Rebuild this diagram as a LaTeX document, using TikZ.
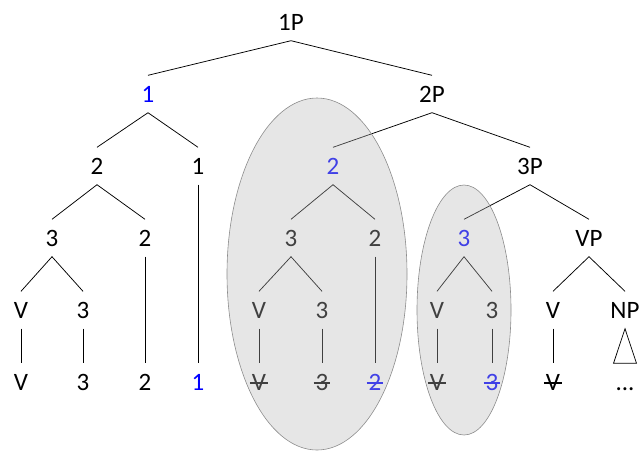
\documentclass[tikz,border=0pt]{standalone}
\usepackage{fontspec}
\setmainfont{Carlito}
\usetikzlibrary{calc}

\definecolor{moved}{RGB}{0,0,255}
% crossed-out copy of a label
\newcommand{\struck}[1]{\setbox0\hbox{#1}\rlap{\kern-0.08em\raise0.25em\hbox{\vrule width\dimexpr\wd0+0.16em\relax height 0.055em}}\box0}

\begin{document}
\begin{tikzpicture}[x=1pt,y=-1pt,
        lbl/.style={font=\fontsize{25}{30}\selectfont, inner xsep=0pt, inner ysep=10.5pt,
            text height=16pt, text depth=0pt},
        copy/.style={lbl, text=moved},
        branch/.style={line width=0.75pt},
        chunk/.style={draw=black!45, line width=0.6pt, fill=black!28, fill opacity=0.35}]
        \useasboundingbox (0,0) rectangle (644,451);

        % row 1 and 2
        \node[lbl] (p1) at (291,22) {1P};
        \node[copy] (one) at (148,94) {1};
        \node[lbl] (p2) at (432,94) {2P};

        % row 3
        \node[lbl] (a2) at (97,166) {2};
        \node[lbl] (a1) at (198,166) {1};
        \node[copy] (b2) at (333,166) {2};
        \node[lbl] (p3) at (530,166) {3P};

        % row 4
        \node[lbl] (a3) at (52,238) {3};
        \node[lbl] (a2r) at (145,238) {2};
        \node[lbl] (b3) at (291,238) {3};
        \node[lbl] (b2r) at (375,238) {2};
        \node[copy] (c3) at (464,238) {3};
        \node[lbl] (vp) at (589,238) {VP};

        % row 5
        \node[lbl] (av) at (21,310) {V};
        \node[lbl] (a3r) at (83,310) {3};
        \node[lbl] (bv) at (259,310) {V};
        \node[lbl] (b3r) at (322,310) {3};
        \node[lbl] (cv) at (437,310) {V};
        \node[lbl] (c3r) at (492,310) {3};
        \node[lbl] (dv) at (553,310) {V};
        \node[lbl] (np) at (625,310) {NP};

        % row 6
        \node[lbl] (avt) at (21,382) {V};
        \node[lbl] (a3t) at (83,382) {3};
        \node[lbl] (a2t) at (145,382) {2};
        \node[copy] (a1t) at (198,382) {1};
        \node[lbl] (bvt) at (259,382) {\struck{V}};
        \node[lbl] (b3t) at (322,382) {\struck{3}};
        \node[copy] (b2t) at (375,382) {\struck{2}};
        \node[lbl] (cvt) at (437,382) {\struck{V}};
        \node[copy] (c3t) at (492,382) {\struck{3}};
        \node[lbl] (dvt) at (553,382) {\struck{V}};
        \node[lbl] (dots) at (625,382) {...};

        \draw[branch] (one.north) -- (p1.south) -- (p2.north);
        \draw[branch] (a2.north) -- (one.south) -- (a1.north);
        \draw[branch] (b2.north) -- (p2.south) -- (p3.north);
        \draw[branch] (a3.north) -- (a2.south) -- (a2r.north);
        \draw[branch] (b3.north) -- (b2.south) -- (b2r.north);
        \draw[branch] (c3.north) -- (p3.south) -- (vp.north);
        \draw[branch] (av.north) -- (a3.south) -- (a3r.north);
        \draw[branch] (bv.north) -- (b3.south) -- (b3r.north);
        \draw[branch] (cv.north) -- (c3.south) -- (c3r.north);
        \draw[branch] (dv.north) -- (vp.south) -- (np.north);

        \draw[branch] (a1.south) -- (a1t.north);
        \draw[branch] (a2r.south) -- (a2t.north);
        \draw[branch] (b2r.south) -- (b2t.north);
        \draw[branch] (av.south) -- (avt.north);
        \draw[branch] (a3r.south) -- (a3t.north);
        \draw[branch] (bv.south) -- (bvt.north);
        \draw[branch] (b3r.south) -- (b3t.north);
        \draw[branch] (cv.south) -- (cvt.north);
        \draw[branch] (c3r.south) -- (c3t.north);
        \draw[branch] (dv.south) -- (dvt.north);
        \draw[branch] (np.south) -- ($(dots.north)+(-11.5,0)$) -- ($(dots.north)+(11.5,0)$) -- cycle;

        % moved chunks
        \draw[chunk] (317,274) ellipse [x radius=90pt, y radius=176pt];
        \draw[chunk] (464,310) ellipse [x radius=47pt, y radius=125pt];
\end{tikzpicture}
\end{document}
